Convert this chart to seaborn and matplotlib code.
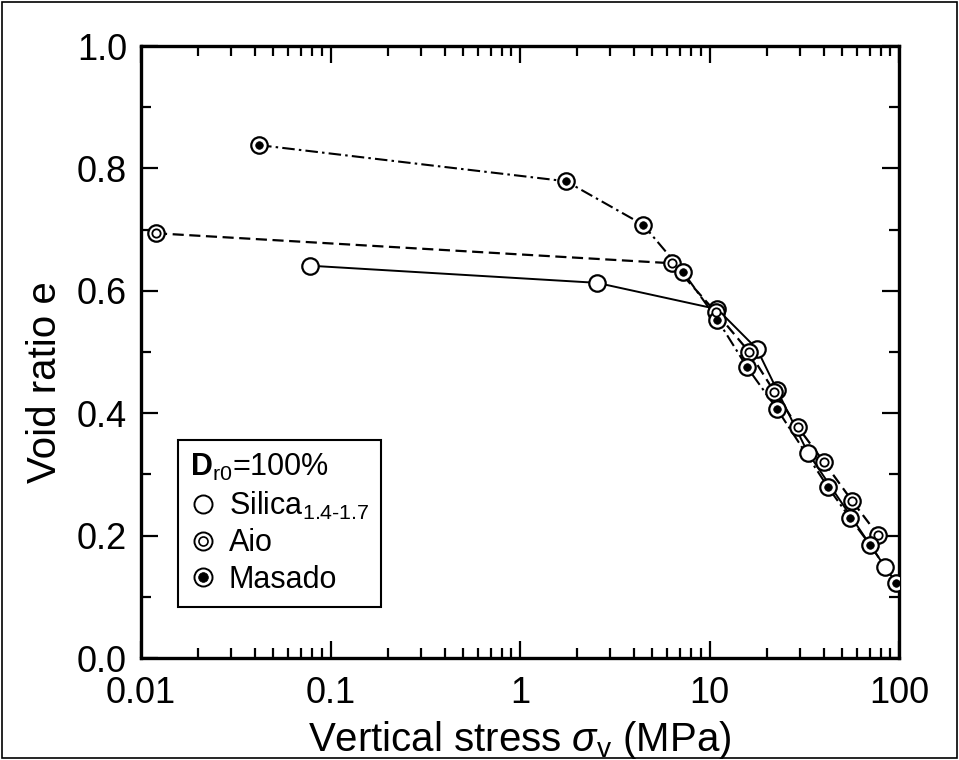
import numpy as np
import pandas as pd
import matplotlib
matplotlib.use("Agg")
import matplotlib.pyplot as plt
import seaborn as sns
from matplotlib.lines import Line2D
from matplotlib.legend_handler import HandlerTuple
from matplotlib.patches import Rectangle

# ---- data ----
silica_stress = [0.078, 2.55, 11.0, 17.8, 22.7, 33.1, 84.3]
silica_e = [0.641, 0.613, 0.570, 0.505, 0.438, 0.335, 0.149]

aio_stress = [0.012, 6.34, 10.8, 16.2, 22.0, 29.3, 40.2, 56.5, 77.4]
aio_e = [0.694, 0.645, 0.565, 0.500, 0.435, 0.377, 0.320, 0.257, 0.201]

masado_stress = [0.042, 1.75, 4.46, 7.24, 11.0, 15.8, 22.7, 42.2, 55.1, 70.3, 96.4]
masado_e = [0.838, 0.779, 0.708, 0.631, 0.553, 0.475, 0.407, 0.279, 0.229, 0.185, 0.123]

x_ticks = [0.01, 0.1, 1, 10, 100]
x_ticklabels = ["0.01", "0.1", "1", "10", "100"]
y_ticks = [0.0, 0.2, 0.4, 0.6, 0.8, 1.0]
y_ticklabels = ["0.0", "0.2", "0.4", "0.6", "0.8", "1.0"]

sns.set_style("ticks")
plt.rcParams["font.family"] = ["Liberation Sans", "DejaVu Sans"]
plt.rcParams["mathtext.fontset"] = "custom"
plt.rcParams["mathtext.rm"] = "Liberation Sans"
plt.rcParams["mathtext.it"] = "Liberation Sans:italic"
plt.rcParams["mathtext.bf"] = "Liberation Sans:bold"
for k in ["text.color", "axes.labelcolor", "xtick.color", "ytick.color", "axes.edgecolor"]:
    plt.rcParams[k] = "black"

fig = plt.figure(figsize=(9.59, 7.60), dpi=100)
ax = fig.add_axes([141/959, 1-658/760, (899-141)/959, (658-46)/760])

silica = pd.DataFrame({"stress": silica_stress, "e": silica_e})
aio = pd.DataFrame({"stress": aio_stress, "e": aio_e})
masado = pd.DataFrame({"stress": masado_stress, "e": masado_e})

lc = "black"
sns.lineplot(data=silica, x="stress", y="e", sort=False, ax=ax, color=lc, lw=1.4, linestyle="-", zorder=2)
sns.lineplot(data=aio, x="stress", y="e", sort=False, ax=ax, color=lc, lw=1.6, linestyle=(0, (5, 2.5)), zorder=2)
sns.lineplot(data=masado, x="stress", y="e", sort=False, ax=ax, color=lc, lw=1.5, linestyle=(0, (6, 2, 1.2, 2)), zorder=2)

S_OUT = 140
S_IN_RING = 36
S_DOT = 30
sns.scatterplot(data=silica, x="stress", y="e", ax=ax, s=S_OUT, marker="o", facecolor="white",
                edgecolor="black", linewidth=1.6, zorder=4)
sns.scatterplot(data=aio, x="stress", y="e", ax=ax, s=S_OUT, marker="o", facecolor="white",
                edgecolor="black", linewidth=1.6, zorder=4)
sns.scatterplot(data=aio, x="stress", y="e", ax=ax, s=S_IN_RING, marker="o", facecolor="white",
                edgecolor="black", linewidth=1.3, zorder=5)
sns.scatterplot(data=masado, x="stress", y="e", ax=ax, s=S_OUT, marker="o", facecolor="white",
                edgecolor="black", linewidth=1.6, zorder=4)
sns.scatterplot(data=masado, x="stress", y="e", ax=ax, s=S_DOT, marker="o", facecolor="black",
                edgecolor="black", linewidth=0.5, zorder=5)

ax.set_xscale("log")
ax.set_xlim(0.01, 100)
ax.set_ylim(0.0, 1.0)
ax.set_xticks(x_ticks)
ax.set_xticklabels(x_ticklabels)
ax.set_yticks(y_ticks)
ax.set_yticklabels(y_ticklabels)
ax.yaxis.set_minor_locator(matplotlib.ticker.MultipleLocator(0.1))
ax.xaxis.set_minor_locator(matplotlib.ticker.LogLocator(base=10, subs=np.arange(2, 10)))
ax.xaxis.set_minor_formatter(matplotlib.ticker.NullFormatter())

ax.tick_params(which="both", direction="in", top=True, right=True, width=1.6, labelsize=26, colors="black")
ax.tick_params(which="major", length=12)
ax.tick_params(which="minor", length=7)
ax.tick_params(axis="y", which="major", pad=10)
ax.tick_params(axis="x", which="major", pad=13)
for sp in ax.spines.values():
    sp.set_linewidth(2.4)
    sp.set_color("black")

ax.set_xlabel(r"Vertical stress $\sigma_{\mathrm{v}}$ (MPa)", fontsize=29, labelpad=6)
ax.set_ylabel("Void ratio e", fontsize=29)
ax.yaxis.set_label_coords(-0.102, 0.45)

# legend
def ring(ms, fc="white", mew=1.4):
    return Line2D([], [], linestyle="none", marker="o", markersize=ms, markerfacecolor=fc,
                  markeredgecolor="black", markeredgewidth=mew)

h_sil = ring(13)
h_aio = (ring(13), ring(6.5, mew=1.2))
h_mas = (ring(13), ring(7, fc="black", mew=0.5))
leg = ax.legend([h_sil, h_aio, h_mas],
                [r"Silica$_{\mathrm{1.4\text{-}1.7}}$", "Aio", "Masado"],
                handler_map={tuple: HandlerTuple(ndivide=1, pad=0)},
                title=r"$\mathbf{D}_{\mathrm{r0}}$=100%", title_fontsize=22, fontsize=22,
                loc="upper left", bbox_to_anchor=(0.049, 0.357), borderaxespad=0,
                frameon=True, fancybox=False, edgecolor="black", framealpha=1,
                handlelength=0.8, handletextpad=0.45, labelspacing=0.22, borderpad=0.4)
leg.get_frame().set_linewidth(1.5)
leg._legend_box.align = "left"

fig.patches.append(Rectangle((0.002, 0.002), 0.996, 0.996, transform=fig.transFigure,
                             fill=False, edgecolor="black", linewidth=1.2))

fig.savefig("out.png", dpi=100, facecolor="white")
